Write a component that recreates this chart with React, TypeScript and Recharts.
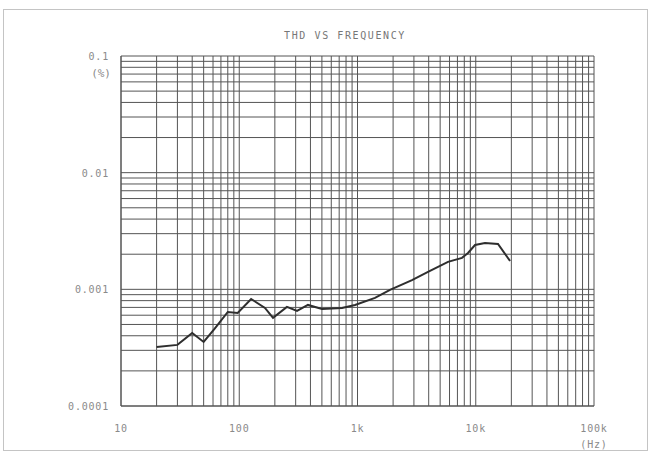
import React from 'react';
import { LineChart, Line, XAxis, YAxis, CartesianGrid } from 'recharts';

// frequency (Hz) and THD (%)
const freqHz = [20, 30, 40, 50, 62, 80, 97, 126, 165, 193, 253, 308, 381, 501, 739, 953, 1406, 1883, 2890, 3946, 5825, 7650, 8600, 9860, 11970, 15420, 19500];
const thdPct = [0.000321, 0.000334, 0.000423, 0.000354, 0.00046, 0.00064, 0.000628, 0.000827, 0.000693, 0.000569, 0.000707, 0.000653, 0.000735, 0.000679, 0.000693, 0.000735, 0.000844, 0.00099, 0.0012, 0.00141, 0.00172, 0.00186, 0.00205, 0.0024, 0.0025, 0.00245, 0.00175];

const xDecades = [10, 100, 1000, 10000];
const xDecadeLabels = ['10', '100', '1k', '10k', '100k'];
const yDecades = [0.0001, 0.001, 0.01];
const yDecadeLabels = ['0.0001', '0.001', '0.01', '0.1'];
const minorSteps = [1, 2, 3, 4, 5, 6, 7, 8, 9];

const data = freqHz.map((f, i) => ({ f, thd: thdPct[i] }));

const xTicks = [...xDecades.flatMap(d => minorSteps.map(m => d * m)), 100000];
const yTicks = [...yDecades.flatMap(d => minorSteps.map(m => +(d * m).toPrecision(3))), 0.1];
const xMajor = [...xDecades, 100000];
const yMajor = [...yDecades, 0.1];

const labelColor = '#8a8a8a';
const font = '"DejaVu Sans Mono", monospace';

const XTick = (props: any) => {
    const { x, y, payload } = props;
    const idx = xMajor.findIndex(v => Math.abs(v - payload.value) / v < 1e-6);
    if (idx < 0) return <g />;
    return (
        <g>
            <text x={x} y={y + 18} textAnchor="middle" fill={labelColor} fontSize={10} fontFamily={font} letterSpacing={0.8}>
                {xDecadeLabels[idx]}
            </text>
            {idx === xMajor.length - 1 && (
                <text x={x} y={y + 34} textAnchor="middle" fill={labelColor} fontSize={10} fontFamily={font} letterSpacing={0.8}>
                    (Hz)
                </text>
            )}
        </g>
    );
};

const YTick = (props: any) => {
    const { x, y, payload } = props;
    const idx = yMajor.findIndex(v => Math.abs(v - payload.value) / v < 1e-6);
    if (idx < 0) return <g />;
    return (
        <g>
            <text x={x - 4} y={y + 4} textAnchor="end" fill={labelColor} fontSize={10} fontFamily={font} letterSpacing={0.8}>
                {yDecadeLabels[idx]}
            </text>
            {idx === yMajor.length - 1 && (
                <text x={x - 2} y={y + 21} textAnchor="end" fill={labelColor} fontSize={11} fontFamily={font}>
                    (%)
                </text>
            )}
        </g>
    );
};

export default function App() {
    return (
        <div style={{ position: 'absolute', left: 0, top: 0, width: 651, height: 454, background: '#fff' }}>
            {/* faint page frame */}
            <div style={{ position: 'absolute', left: 3, top: 9, width: 643, height: 440, border: '1px solid #c4c4c4' }} />
            <div style={{ position: 'absolute', left: 0, top: 30, width: 690, textAlign: 'center', fontFamily: font, fontSize: 10, color: '#777', letterSpacing: 1.6 }}>
                THD VS FREQUENCY
            </div>
            <div style={{ position: 'absolute', left: 0, top: 0 }}>
                <LineChart width={651} height={454} data={data} margin={{ top: 56, right: 57, left: 61, bottom: 0 }}>
                    <CartesianGrid stroke="#555" strokeWidth={1} />
                    <XAxis
                        dataKey="f"
                        type="number"
                        scale="log"
                        domain={[10, 100000]}
                        ticks={xTicks}
                        interval={0}
                        height={48}
                        tickLine={false}
                        axisLine={{ stroke: '#555' }}
                        tick={<XTick />}
                        allowDataOverflow
                    />
                    <YAxis
                        type="number"
                        scale="log"
                        domain={[0.0001, 0.1]}
                        ticks={yTicks}
                        interval={0}
                        width={60}
                        tickLine={false}
                        axisLine={{ stroke: '#555' }}
                        tick={<YTick />}
                        allowDataOverflow
                    />
                    <Line type="linear" dataKey="thd" stroke="#2e2e2e" strokeWidth={2} dot={false} isAnimationActive={false} />
                </LineChart>
            </div>
        </div>
    );
}
